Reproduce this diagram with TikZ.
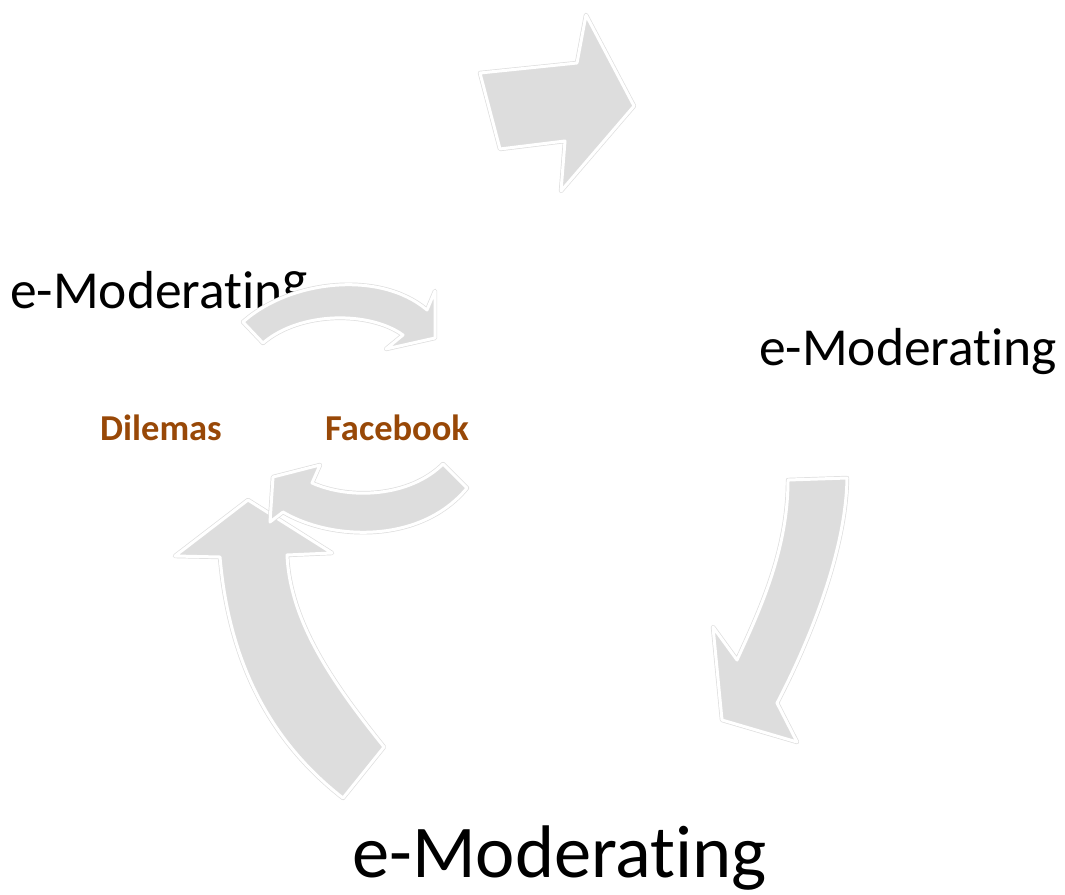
\documentclass[tikz,border=0pt]{standalone}
\usepackage{fontspec}
\setmainfont[Ligatures=NoCommon]{Carlito}
\definecolor{arrowgray}{RGB}{221,221,221}
\definecolor{rimgray}{RGB}{222,222,222}
\definecolor{labelbrown}{RGB}{152,72,7}
\tikzset{
  blockarrow/.style={fill=arrowgray, draw=white, line width=3pt, line join=round,
    preaction={draw=rimgray, line width=4.4pt, line join=round}},
  bigtext/.style={anchor=base west, inner sep=0pt, font=\fontsize{74.5}{80}\selectfont},
  midtext/.style={anchor=base west, inner sep=0pt, font=\fontsize{53.5}{60}\selectfont},
  brownlabel/.style={anchor=base west, inner sep=0pt, text=labelbrown, font=\bfseries\fontsize{36.5}{40}\selectfont}
}
\begin{document}
\begin{tikzpicture}[x=1pt,y=-1pt]
\useasboundingbox (0,0) rectangle (1065,894);
% texts
\node[midtext] (tleft) at (10,308) {e-Moderatin\raisebox{11pt}{g}};
\node[midtext] (tright) at (759,365) {e-Moderating};
\node[bigtext] (tbottom) at (352,877) {e-Moderating};
\node[brownlabel] (dil) at (100,440) {Dilemas};
\node[brownlabel] (fb) at (325,440) {Facebook};
% big arrows
\draw[blockarrow] (480,73) -- (577,63) -- (586,15) -- (634,106) -- (561,191) -- (565,141) -- (500,149) -- cycle;
\draw[blockarrow] (788,480) -- (847,478) .. controls (846,550) and (810,640) .. (777,703)
  -- (797,742) -- (722,720) -- (713,627) -- (737,660) .. controls (760,610) and (788,550) .. (788,480) -- cycle;
\draw[blockarrow] (343,798) -- (384,747) .. controls (330,680) and (290,620) .. (287,555)
  -- (332,553) -- (248,500) -- (175,556) -- (220,557) .. controls (228,650) and (262,735) .. (343,798) -- cycle;
% small arrows
\draw[blockarrow] (243,322) .. controls (290,280) and (380,270) .. (427,310) -- (435,291) -- (435,338)
  -- (386,349) -- (403,335) .. controls (370,311) and (300,311) .. (263,343) -- cycle;
\draw[blockarrow] (443,464) -- (467,488) .. controls (420,545) and (330,540) .. (283,512) -- (270,522)
  -- (273,477) -- (320,465) -- (312,483) .. controls (350,500) and (410,497) .. (443,464) -- cycle;
\end{tikzpicture}
\end{document}
